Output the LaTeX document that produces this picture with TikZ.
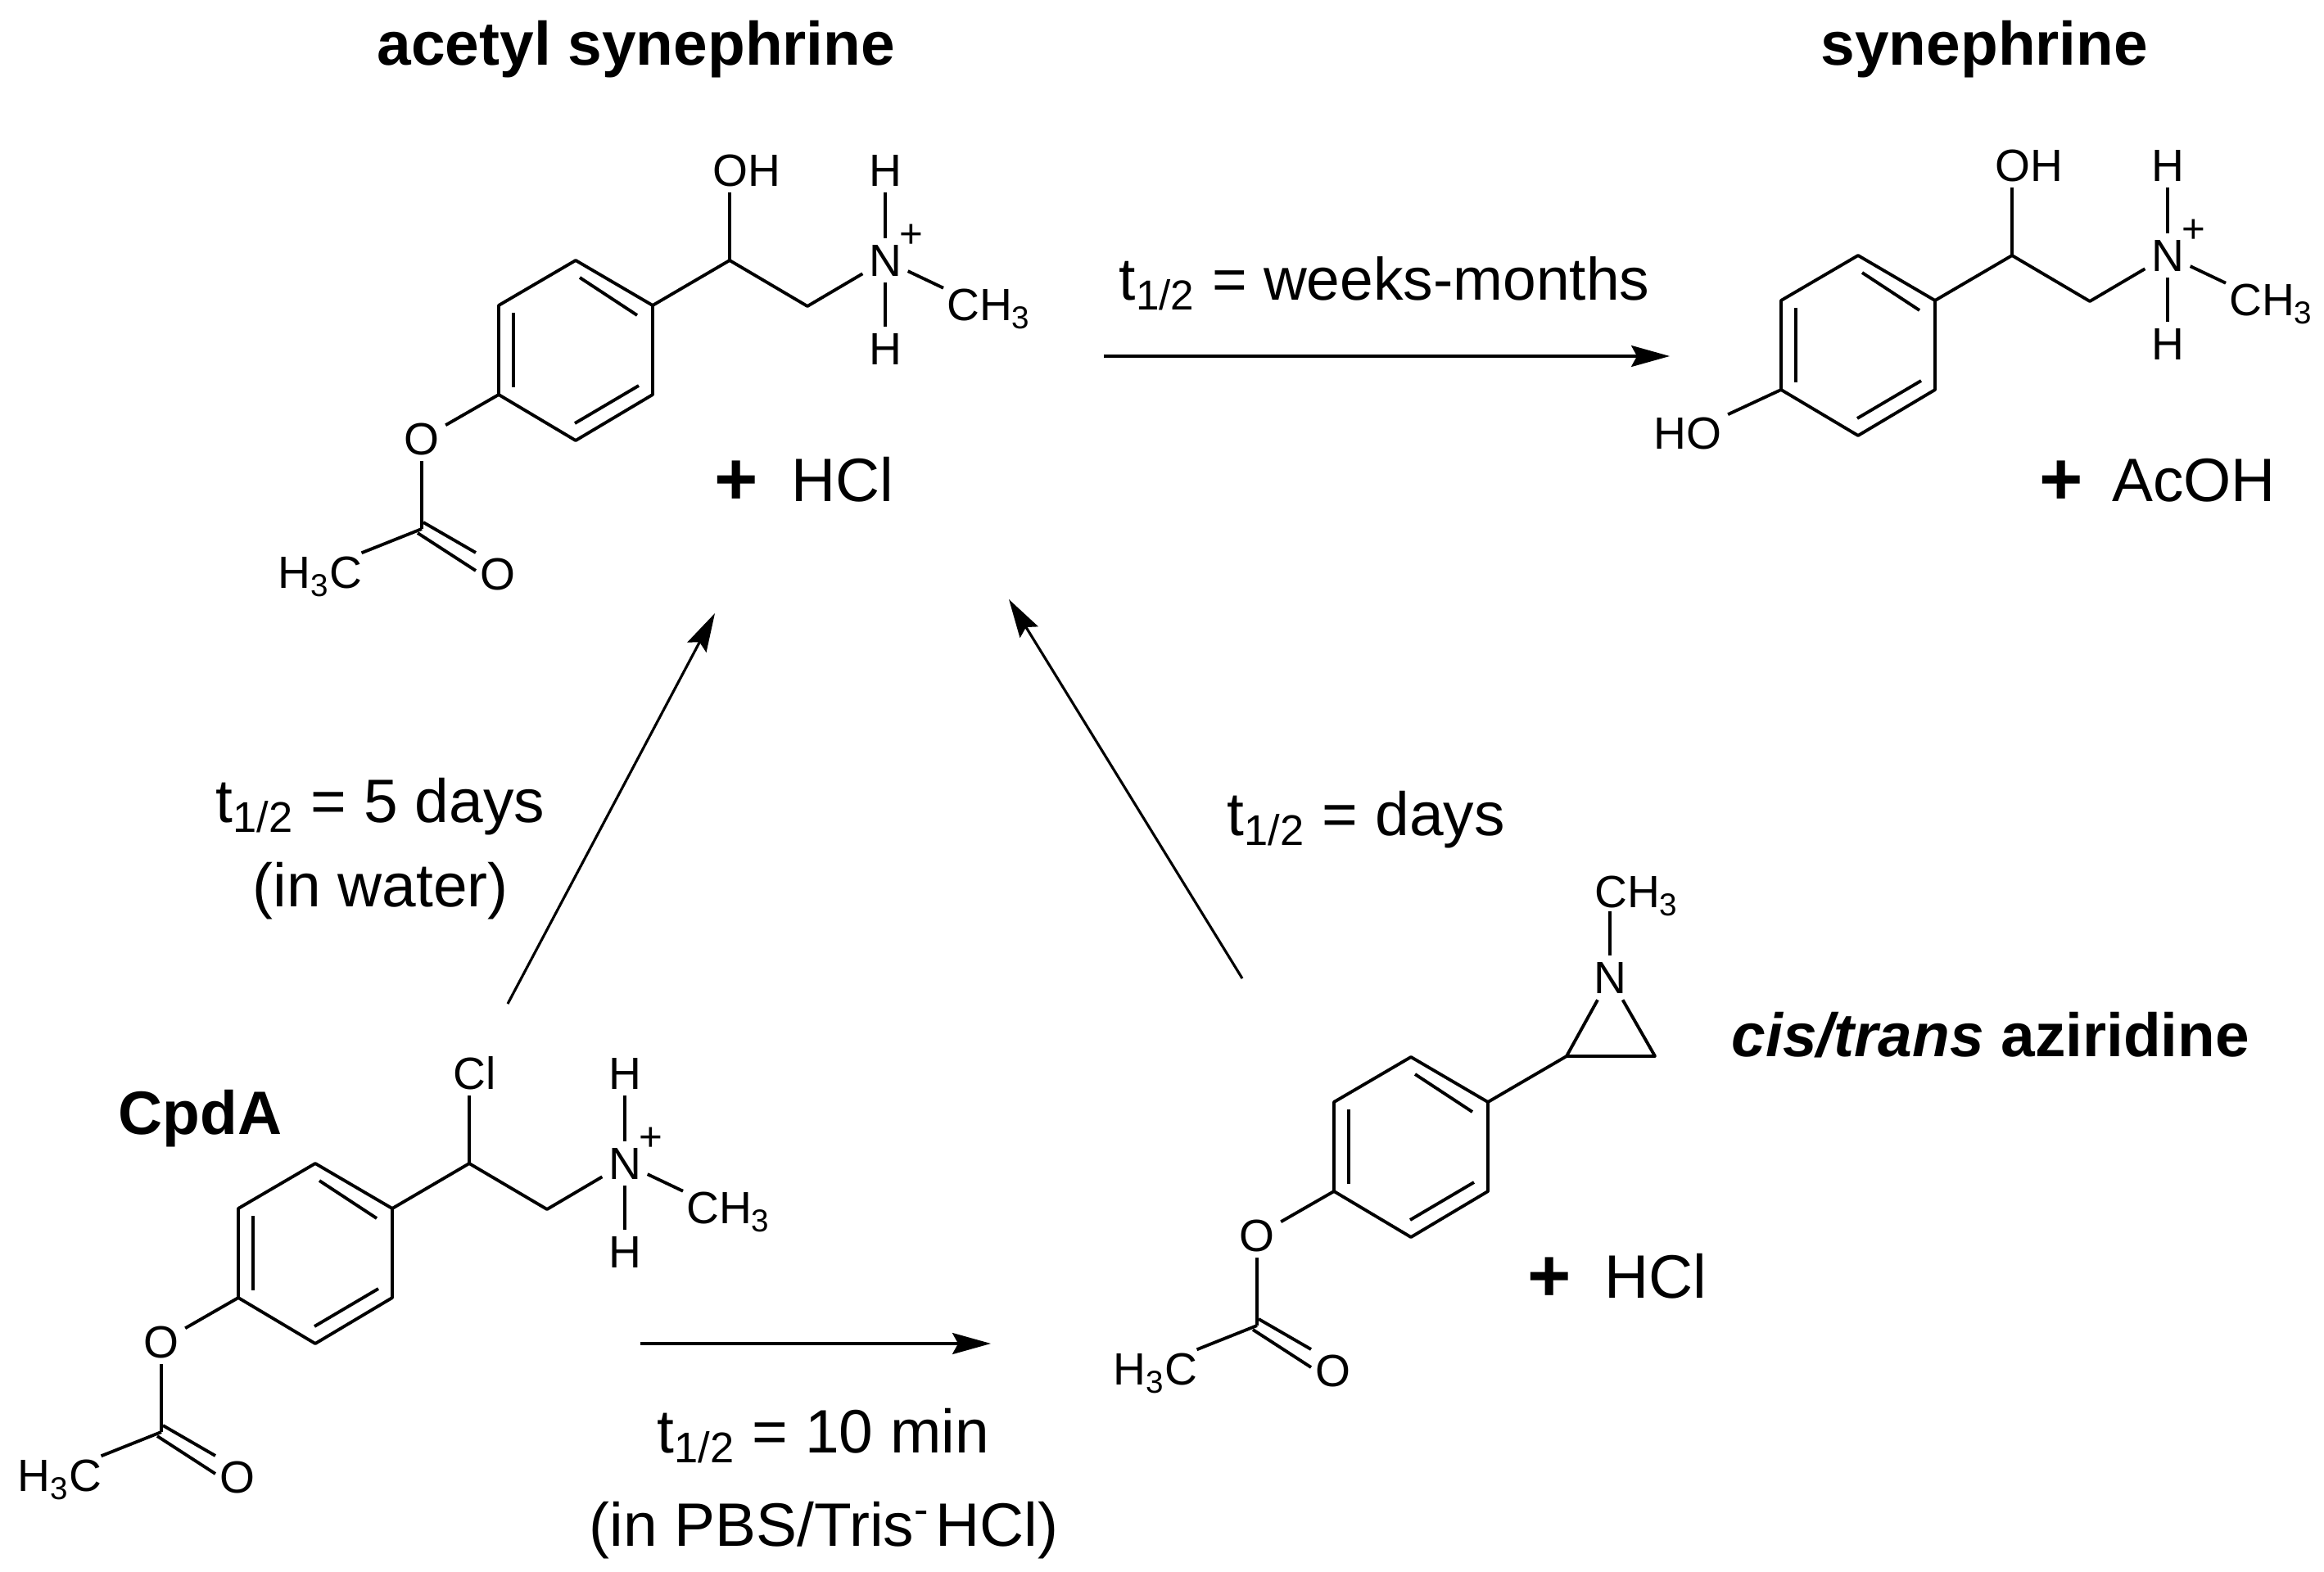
\documentclass[tikz,border=0pt]{standalone}
\usepackage{fontspec}
\setmainfont{Liberation Sans}
\usetikzlibrary{arrows.meta}
\newcommand{\thalf}{t\textsubscript{1/2}}
\newcommand{\bigplus}{\raisebox{-.4mm}{\fontsize{26}{26}\selectfont\textbf{+}}}

\begin{document}
\begin{tikzpicture}[
  bond/.style={line width=1.1pt,line join=round},
  arr/.style={line width=.9pt,-{Stealth[length=4.7mm,width=2.6mm,inset=.7mm]}},
  atom/.style={font=\fontsize{15.7}{18}\selectfont,inner sep=2pt,text height=3.9mm,text depth=0pt},
  txt/.style={font=\fontsize{21.3}{25}\selectfont,inner sep=0pt,anchor=base west}]
\useasboundingbox (0,0) rectangle (28.38,-19.2);

% benzene rings
\foreach \m/\dx/\dy in {a/0/0,c/-3.18/-11.03,z/10.2/-9.73,s/15.66/.06}{
\begin{scope}[shift={(\dx,\dy)}]
\coordinate (\m r1) at (7.03,-3.18);
\coordinate (\m r2) at (7.97,-3.73);
\coordinate (\m r3) at (7.97,-4.82);
\coordinate (\m r4) at (7.03,-5.38);
\coordinate (\m r5) at (6.09,-4.82);
\coordinate (\m r6) at (6.09,-3.73);
\coordinate (\m i1) at (7.08,-3.39);
\coordinate (\m i2) at (7.78,-3.85);
\coordinate (\m i3) at (6.27,-3.82);
\coordinate (\m i4) at (6.27,-4.73);
\coordinate (\m i5) at (7.02,-5.17);
\coordinate (\m i6) at (7.80,-4.71);
\draw[bond] (\m r1) -- (\m r2) -- (\m r3) -- (\m r4) -- (\m r5) -- (\m r6) -- cycle;
\draw[bond] (\m i1) -- (\m i2);
\draw[bond] (\m i3) -- (\m i4);
\draw[bond] (\m i5) -- (\m i6);
\end{scope}
}

% acetate groups
\foreach \m/\dx/\dy in {a/0/0,c/-3.18/-11.03,z/10.2/-9.73}{
\begin{scope}[shift={(\dx,\dy)}]
\path (5.15,-5.36) node[atom] (\m o1){O};
\coordinate (\m ac) at (5.15,-6.46);
\path (3.35,-6.99) node[atom,anchor=west,inner sep=1pt] (\m me){H\textsubscript{3}C};
\path (6.08,-7.01) node[atom] (\m o2){O};
\coordinate (\m d1) at (5.10,-6.51);
\coordinate (\m d2) at (5.81,-6.97);
\coordinate (\m d3) at (5.17,-6.38);
\coordinate (\m d4) at (5.81,-6.75);
\draw[bond] (\m r5) -- (\m o1);
\draw[bond] (\m o1) -- (\m ac);
\draw[bond] (\m ac) -- (\m me.25);
\draw[bond] (\m d1) -- (\m d2);
\draw[bond] (\m d3) -- (\m d4);
\end{scope}
}

% side chains
\foreach \m/\dx/\dy/\lab/\lx in {a/0/0/OH/9.12,c/-3.18/-11.03/Cl/8.98,s/15.66/.06/OH/9.12}{
\begin{scope}[shift={(\dx,\dy)}]
\coordinate (\m ch) at (8.91,-3.18);
\coordinate (\m cc) at (9.86,-3.74);
\path (\lx,-2.08) node[atom] (\m x){\lab};
\path (10.81,-3.18) node[atom] (\m n){N};
\path (10.81,-2.08) node[atom] (\m h1){H};
\path (10.81,-4.26) node[atom] (\m h2){H};
\path (11.13,-2.88) node[font=\fontsize{14}{15}\selectfont,inner sep=0pt] (\m p){+};
\path (11.52,-3.72) node[atom,anchor=west,inner sep=1pt] (\m m){CH\textsubscript{3}};
\draw[bond] (\m r2) -- (\m ch) -- (\m cc) -- (\m n);
\draw[bond] (\m ch) -- (\m x.south -| \m ch);
\draw[bond] (\m n) -- (\m h1);
\draw[bond] (\m n) -- (\m h2);
\draw[bond] (\m n) -- (\m m.160);
\end{scope}
}

% phenol of synephrine
\path (20.61,-5.29) node[atom] (sho){HO};
\draw[bond] (sr5) -- (sho);

% aziridine
\coordinate (zc1) at (19.13,-12.90);
\coordinate (zc2) at (20.21,-12.90);
\path (19.66,-11.94) node[atom] (zn){N};
\path (19.43,-10.89) node[atom,anchor=west,inner sep=1pt] (zm){CH\textsubscript{3}};
\draw[bond] (zr2) -- (zc1) -- (zc2) -- (zn) -- (zc1);
\draw[bond] (zn) -- (zn |- zm.south);

% arrows
\coordinate (t1) at (13.48,-4.35);
\coordinate (t2) at (20.39,-4.35);
\coordinate (l1) at (6.20,-12.26);
\coordinate (l2) at (8.73,-7.49);
\coordinate (m1) at (15.17,-11.95);
\coordinate (m2) at (12.32,-7.32);
\coordinate (b1) at (7.82,-16.41);
\coordinate (b2) at (12.10,-16.41);
\draw[arr] (t1) -- (t2);
\draw[arr] (l1) -- (l2);
\draw[arr] (m1) -- (m2);
\draw[arr] (b1) -- (b2);

% texts
\path (4.60,-.80) node[txt,font=\fontsize{21.3}{25}\selectfont\bfseries] (acetyl){acetyl synephrine};
\path (22.23,-.80) node[txt,font=\fontsize{21.3}{25}\selectfont\bfseries] (syn){synephrine};
\path (1.44,-13.85) node[txt,font=\fontsize{21.3}{25}\selectfont\bfseries] (cpda){CpdA};
\path (21.14,-12.90) node[txt,font=\fontsize{21.3}{25}\selectfont\bfseries] (azir){\textit{cis/trans} aziridine};
\path (8.72,-6.12) node[txt] (hcl1){\bigplus\hspace{.40cm}HCl};
\path (24.90,-6.12) node[txt] (acoh){\bigplus\hspace{.35cm}AcOH};
\path (18.65,-15.85) node[txt] (hcl2){\bigplus\hspace{.40cm}HCl};
\path (13.66,-3.67) node[txt,font=\fontsize{20.8}{25}\selectfont] (t4){\thalf{} = weeks-months};
\path (2.63,-10.04) node[txt] (t5){\thalf{} = 5 days};
\path (3.08,-11.07) node[txt] (water){(in water)};
\path (14.98,-10.20) node[txt] (t6){\thalf{} = days};
\path (8.02,-17.74) node[txt] (t7){\thalf{} = 10 min};
\path (7.19,-18.88) node[txt] (pbs){(in PBS/Tris\textsuperscript{-}\hspace{.07cm}HCl)};
\end{tikzpicture}
\end{document}
